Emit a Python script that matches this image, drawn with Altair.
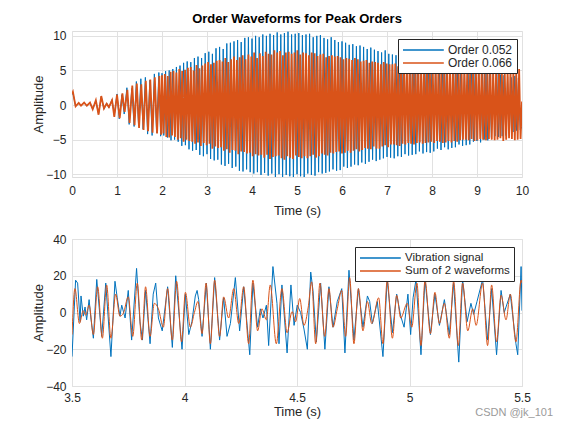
import altair as alt
import numpy as np
import pandas as pd

FONT = "Liberation Sans"
BLUE = "#0072BD"
ORANGE = "#D95319"
TXT = "#262626"
GRID = "#E1E1E1"

# ---------------- Top panel: order waveforms (0..10 s) ----------------
top_series = ["Order 0.052", "Order 0.066"]

# early part, peaks read individually
blue_early_t = [0.00, 0.02, 0.08, 0.15, 0.20, 0.27, 0.33, 0.40, 0.46, 0.53, 0.59, 0.65,
                0.71, 0.77, 0.82, 0.89, 0.94, 1.00, 1.05, 1.11, 1.16, 1.22, 1.27, 1.33,
                1.38, 1.43, 1.48, 1.53, 1.58, 1.63, 1.68, 1.73, 1.78, 1.83, 1.88, 1.93, 1.97]
blue_early_v = [1.5, 1.8, -0.2, 0.3, -0.1, 0.3, -0.15, 0.3, -0.6, 0.6, -1.3, 1.2,
                -0.6, 0.3, -0.4, 0.8, -1.5, 1.6, -2.0, 1.5, -1.3, 2.5, -2.8, 2.4,
                -3.1, 3.4, -3.0, 3.8, -3.5, 4.0, -4.2, 3.6, -4.4, 4.5, -4.0, 4.7, -4.5]
orange_early_t = [0.00, 0.02, 0.08, 0.15, 0.20, 0.27, 0.33, 0.40, 0.46, 0.53, 0.59, 0.65,
                  0.71, 0.77, 0.82, 0.89, 0.94, 1.00, 1.06, 1.12, 1.17, 1.23, 1.28, 1.34,
                  1.39, 1.44, 1.49, 1.54, 1.59, 1.64, 1.69, 1.74, 1.79, 1.84, 1.89, 1.94, 1.98]
orange_early_v = [1.6, 1.9, -0.2, 0.3, -0.1, 0.35, -0.1, 0.35, -0.6, 0.7, -1.4, 1.3,
                  -0.5, 0.2, -0.3, 0.7, -1.7, 1.5, -1.9, 1.7, -1.0, 2.2, -2.6, 2.8,
                  -2.9, 3.1, -3.3, 3.0, -3.6, 3.5, -3.8, 3.7, -4.0, 4.0, -4.1, 4.2, -4.3]

# dense part, read as successive peaks on a regular sampling grid
blue_dense_start, blue_dense_step = 2.0, 0.04
blue_dense_v = [
    4.6, -4.4, 4.9, -4.7, 5.0, -5.1, 5.2, -5.0, 5.5, -5.3,
    5.7, -5.9, 6.1, -5.8, 6.3, -6.4, 6.2, -6.6, 6.8, -6.5,
    7.0, -7.2, 6.8, -7.4, 7.5, -7.1, 7.7, -7.8, 7.4, -8.0,
    8.2, -7.9, 8.4, -8.6, 8.1, -8.8, 8.9, -8.5, 9.0, -9.1,
    9.2, -8.9, 9.4, -9.5, 9.1, -9.6, 9.7, -9.3, 9.8, -9.7,
    9.6, -9.9, 10.0, -9.7, 9.8, -10.1, 10.2, -9.8, 10.0, -10.2,
    10.3, -9.9, 10.1, -10.4, 10.5, -10.0, 10.2, -10.5, 10.4, -10.1,
    10.6, -10.3, 10.2, -10.5, 10.3, -10.0, 10.4, -10.3, 10.1, -10.4,
    10.2, -9.9, 10.3, -10.1, 9.8, -10.2, 10.0, -9.7, 10.1, -9.9,
    9.7, -9.8, 9.5, -9.6, 9.8, -9.3, 9.4, -9.5, 9.1, -9.4,
    9.2, -8.9, 9.0, -9.1, 8.7, -8.9, 8.8, -8.6, 8.5, -8.7,
    8.6, -8.3, 8.4, -8.5, 8.1, -8.2, 8.3, -7.9, 8.0, -8.1,
    7.8, -7.9, 7.6, -7.7, 7.9, -7.5, 7.4, -7.6, 7.3, -7.7,
    7.2, -7.4, 7.0, -7.5, 7.3, -7.1, 6.9, -7.3, 7.0, -7.2,
    6.8, -7.1, 6.9, -6.7, 6.6, -7.0, 6.7, -6.8, 6.5, -6.9,
    6.4, -6.7, 6.6, -6.3, 6.2, -6.5, 6.4, -6.1, 6.3, -6.4,
    6.0, -6.2, 5.9, -6.1, 5.8, -5.7, 5.9, -5.9, 5.6, -5.8,
    5.5, -5.7, 5.4, -5.3, 5.6, -5.2, 5.1, -5.4, 5.2, -5.0,
    4.9, -5.1, 4.8, -4.7, 4.9, -4.5, 4.6, -4.6, 4.4, -4.5,
    4.3, -4.4, 4.1, -4.2, 4.0, -3.9, 4.2, -3.7, 3.9, -3.6,
    -3.1,
]
orange_dense_start, orange_dense_step = 2.0, 0.032
orange_dense_v = [
    4.3, -4.1, 4.5, -4.6, 4.2, -4.7, 4.8, -4.4, 4.9, -4.6,
    4.7, -5.0, 5.2, -4.8, 4.9, -5.3, 5.1, -5.0, 5.4, -5.2,
    5.5, -5.3, 5.0, -5.6, 5.8, -5.4, 5.3, -5.9, 5.7, -5.5,
    6.0, -5.8, 6.2, -5.6, 5.9, -6.3, 6.1, -6.0, 6.4, -6.2,
    6.5, -6.1, 6.3, -6.6, 6.8, -6.4, 6.2, -6.9, 6.6, -6.5,
    7.0, -6.6, 6.5, -7.1, 6.9, -6.7, 7.2, -6.8, 6.6, -7.0,
    7.3, -6.9, 7.0, -7.4, 7.6, -7.1, 6.8, -7.3, 7.5, -7.2,
    7.1, -7.6, 7.7, -7.2, 7.4, -7.8, 7.3, -7.5, 7.9, -7.4,
    7.6, -7.3, 7.8, -7.7, 7.2, -7.9, 7.6, -7.4, 7.7, -7.6,
    7.4, -7.8, 7.6, -7.3, 7.9, -7.5, 7.3, -7.7, 7.6, -7.4,
    7.5, -7.7, 7.2, -7.4, 7.6, -7.2, 7.5, -7.6, 7.1, -7.4,
    7.3, -7.0, 7.4, -7.2, 6.9, -7.3, 7.1, -6.9, 7.2, -7.0,
    7.0, -6.8, 7.1, -6.7, 6.9, -7.0, 6.6, -6.9, 6.8, -6.6,
    6.7, -6.9, 6.5, -6.6, 6.8, -6.4, 6.6, -6.7, 6.3, -6.5,
    6.4, -6.2, 6.5, -6.3, 6.1, -6.4, 6.3, -6.0, 6.2, -6.3,
    6.1, -6.3, 5.9, -6.0, 6.2, -5.8, 6.0, -6.1, 5.9, -5.7,
    5.9, -5.7, 6.0, -5.8, 5.6, -5.9, 5.8, -5.6, 5.9, -5.7,
    5.7, -5.5, 5.8, -5.6, 5.4, -5.7, 5.6, -5.5, 5.7, -5.4,
    5.5, -5.6, 5.3, -5.5, 5.6, -5.4, 5.5, -5.3, 5.6, -5.5,
    5.4, -5.2, 5.5, -5.3, 5.4, -5.5, 5.2, -5.4, 5.3, -5.2,
    5.3, -5.4, 5.1, -5.2, 5.4, -5.3, 5.2, -5.1, 5.3, -5.0,
    5.2, -5.0, 5.3, -5.1, 5.2, -4.9, 5.1, -5.2, 5.0, -5.1,
    5.1, -4.9, 5.2, -5.0, 4.8, -5.1, 5.0, -4.9, 5.2, -5.0,
    5.0, -5.1, 4.9, -5.0, 5.1, -4.8, 5.0, -5.2, 4.9, -5.0,
    5.0, -4.8, 5.1, -4.9, 5.0, -5.1, 4.8, -5.0, 5.2, -4.9,
    0.5,
]

# ---------------- Bottom panel: 3.5..5.5 s ----------------
bottom_series = ["Vibration signal", "Sum of 2 waveforms"]
vib_t = [3.500, 3.516, 3.525, 3.536, 3.540, 3.550, 3.558, 3.565, 3.576, 3.584, 3.595, 3.610,
         3.632, 3.650, 3.673, 3.691, 3.701, 3.713, 3.721, 3.736, 3.750, 3.765, 3.787, 3.802,
         3.813, 3.827, 3.847, 3.861, 3.872, 3.884, 3.901, 3.925, 3.946, 3.961, 3.989, 4.004,
         4.019, 4.033, 4.048, 4.056, 4.063, 4.078, 4.097, 4.115, 4.134, 4.156, 4.174, 4.189,
         4.204, 4.226, 4.245, 4.263, 4.290, 4.304, 4.325, 4.337, 4.349, 4.364, 4.374, 4.393,
         4.411, 4.420, 4.433, 4.456, 4.473, 4.487, 4.501, 4.516, 4.531, 4.546, 4.561, 4.571,
         4.586, 4.605, 4.624, 4.642, 4.660, 4.679, 4.699, 4.713, 4.731, 4.753, 4.773, 4.793,
         4.813, 4.823, 4.835, 4.857, 4.882, 4.901, 4.924, 4.943, 4.961, 4.976, 4.993, 5.005,
         5.016, 5.029, 5.051, 5.069, 5.093, 5.113, 5.133, 5.155, 5.177, 5.196, 5.219, 5.236,
         5.256, 5.273, 5.285, 5.300, 5.325, 5.347, 5.365, 5.387, 5.407, 5.421, 5.429, 5.448,
         5.473, 5.481, 5.496, 5.500]
vib_v = [-24, 17.6, 16, -5, 9, -2, 3, -4, 7, -3, -14, 18,
         -13, 16, -24, 17, 8, -2, 4, -3, 12, -15, 24, -5,
         -15, 12, -17, 10, 16, -3, -10, 14, -19, 20, -20, 10,
         -12, -5, 9, 12, 7, -13, 16, -20, 19, -15, 8, -13,
         -6, 19, -10, 14, -23, 16, -8, 2, -3, 4, -18, 25,
         5, -17, 15, -22, 15, -7, 4, 0, -9, -20, 22, 12,
         -16, 16, -20, 14, -8, 6, 13, -22, 23, -15, 13, -8,
         9, 6, -6, 6, -24, 18, -11, 10, -2, -8, 10, -12,
         8, 18, -23, 18, -12, 10, -7, 7, -12, 16, -27, 18,
         -5, 5, -1, 6, 18, -15, 13, -23, 12, 0, 3, 10,
         -17, -23, 25, 1]
sum_t = [3.500, 3.513, 3.533, 3.550, 3.561, 3.576, 3.595, 3.614, 3.635, 3.654, 3.673, 3.694,
         3.713, 3.728, 3.750, 3.770, 3.790, 3.810, 3.827, 3.847, 3.866, 3.884, 3.906, 3.925,
         3.946, 3.965, 3.987, 4.004, 4.026, 4.044, 4.060, 4.078, 4.096, 4.115, 4.134, 4.156,
         4.174, 4.196, 4.219, 4.241, 4.263, 4.285, 4.304, 4.325, 4.344, 4.364, 4.381, 4.408,
         4.433, 4.456, 4.478, 4.494, 4.512, 4.531, 4.550, 4.565, 4.583, 4.602, 4.623, 4.642,
         4.660, 4.679, 4.699, 4.716, 4.734, 4.753, 4.773, 4.793, 4.813, 4.832, 4.863, 4.882,
         4.901, 4.924, 4.943, 4.961, 4.990, 5.010, 5.033, 5.051, 5.069, 5.093, 5.113, 5.133,
         5.155, 5.177, 5.196, 5.217, 5.236, 5.259, 5.281, 5.296, 5.325, 5.347, 5.365, 5.387,
         5.407, 5.429, 5.448, 5.473, 5.496, 5.500]
sum_v = [-12, 13, -6, 1, -1.5, 4, -12, 14, -14, 15, -14, 10,
         -2, -0.5, 8.5, -13, 16, -15, 14, -13, 5, 2, -8, 13,
         -15, 17, -16, 11, -8, 0, 6, -11.5, 16, -17, 17.6, -13,
         8.5, -3, 13, -6, 14, -17, 17.6, -10, 2, -4, 15, -17,
         13, -11, 0.5, -5, 7.6, -7, 3, 16.7, -17, 16, -13, 13,
         -8, 2, 12, -13, 19, -17, 13, -10, 6, -6, 8, -17,
         17.6, -14, 9.4, -3, 5, -8, 16, -18, 17.6, -11.5, 11, -6,
         5, -14, 17, -18, 16, -10, 2, -7, 16, -18, 15, -16,
         9.4, -4, 10, -16, 17.6, 16]

watermark = ["CSDN @jk_101"]

# ---------------- build tables ----------------
def dense_times(start, step, values):
    return [round(start + step * i, 4) for i in range(len(values))]

top_blue = pd.DataFrame({
    "t": blue_early_t + dense_times(blue_dense_start, blue_dense_step, blue_dense_v),
    "v": blue_early_v + blue_dense_v,
})
top_blue["series"] = top_series[0]
top_orange = pd.DataFrame({
    "t": orange_early_t + dense_times(orange_dense_start, orange_dense_step, orange_dense_v),
    "v": orange_early_v + orange_dense_v,
})
top_orange["series"] = top_series[1]

bot_blue = pd.DataFrame({"t": vib_t, "v": vib_v, "series": bottom_series[0]})
bot_orange = pd.DataFrame({"t": sum_t, "v": sum_v, "series": bottom_series[1]})


def xaxis(values, fmt, label_pad, title_pad):
    return alt.Axis(title="Time (s)", values=values, format=fmt, grid=True, gridColor=GRID,
                    domain=False, ticks=False, labelPadding=label_pad, titlePadding=title_pad,
                    labelFontSize=12, titleFontSize=13, labelColor=TXT, titleColor=TXT,
                    titleFontWeight="normal", labelFont=FONT, titleFont=FONT,
                    labelFlush=False)


def yaxis(values):
    return alt.Axis(title="Amplitude", values=values, grid=True, gridColor=GRID,
                    domain=False, ticks=False, labelPadding=6, titlePadding=0,
                    labelFontSize=12, titleFontSize=13, labelColor=TXT, titleColor=TXT,
                    titleFontWeight="normal", labelFont=FONT, titleFont=FONT,
                    labelFlush=False)


def legend(x, y, fs):
    return alt.Legend(title=None, orient="none", legendX=x, legendY=y,
                      strokeColor=TXT, fillColor="white", padding=4,
                      symbolType="M-1,0L5.8,0", symbolSize=144, symbolStrokeWidth=1.3,
                      labelFontSize=fs, labelFont=FONT, labelColor=TXT,
                      rowPadding=0, labelOffset=32, cornerRadius=0)


top_x = alt.X("t:Q", scale=alt.Scale(domain=[0, 10], nice=False, zero=False),
              axis=xaxis(list(range(0, 11)), "d", 8, 8))
top_y = alt.Y("v:Q", scale=alt.Scale(domain=[-10.4, 10.7], nice=False, zero=False),
              axis=yaxis([-10, -5, 0, 5, 10]))
top_color = alt.Color("series:N", scale=alt.Scale(domain=top_series, range=[BLUE, ORANGE]),
                      legend=legend(326, 8, 12))

top = alt.layer(
    alt.Chart(top_blue).mark_line(strokeWidth=1.0, clip=True).encode(x=top_x, y=top_y, color=top_color),
    alt.Chart(top_orange).mark_line(strokeWidth=1.8, clip=True).encode(x=top_x, y=top_y, color=top_color),
).properties(
    width=450, height=146,
    title=alt.TitleParams("Order Waveforms for Peak Orders", font=FONT, fontSize=13,
                          fontWeight="bold", color="black", offset=4, anchor="middle"),
)

bot_x = alt.X("t:Q", scale=alt.Scale(domain=[3.5, 5.5], nice=False, zero=False),
              axis=xaxis([3.5, 4, 4.5, 5, 5.5], "~g", 6, 2))
bot_y = alt.Y("v:Q", scale=alt.Scale(domain=[-40, 40], nice=False, zero=False),
              axis=yaxis([-40, -20, 0, 20, 40]))
bot_color = alt.Color("series:N", scale=alt.Scale(domain=bottom_series, range=[BLUE, ORANGE]),
                      legend=legend(283, 8, 11.5))

wm = alt.Chart(pd.DataFrame({"label": watermark})).mark_text(
    align="right", baseline="middle", font=FONT, fontSize=11, color="#9A9A9A"
).encode(x=alt.value(481), y=alt.value(174), text="label:N")

bottom = alt.layer(
    alt.Chart(bot_blue).mark_line(strokeWidth=1, clip=True).encode(x=bot_x, y=bot_y, color=bot_color),
    alt.Chart(bot_orange).mark_line(strokeWidth=1, clip=True, interpolate="monotone").encode(
        x=bot_x, y=bot_y, color=bot_color),
    wm,
).properties(width=450, height=147)

chart = alt.vconcat(top, bottom, spacing=62, bounds="flush").resolve_scale(
    color="independent"
).resolve_legend(color="independent").configure_view(
    stroke=TXT, strokeWidth=1
).configure(
    background="white", padding={"left": 24, "top": 4, "right": 0, "bottom": 0}
)

chart.save("out.html", embed_options={"renderer": "svg", "actions": False})
